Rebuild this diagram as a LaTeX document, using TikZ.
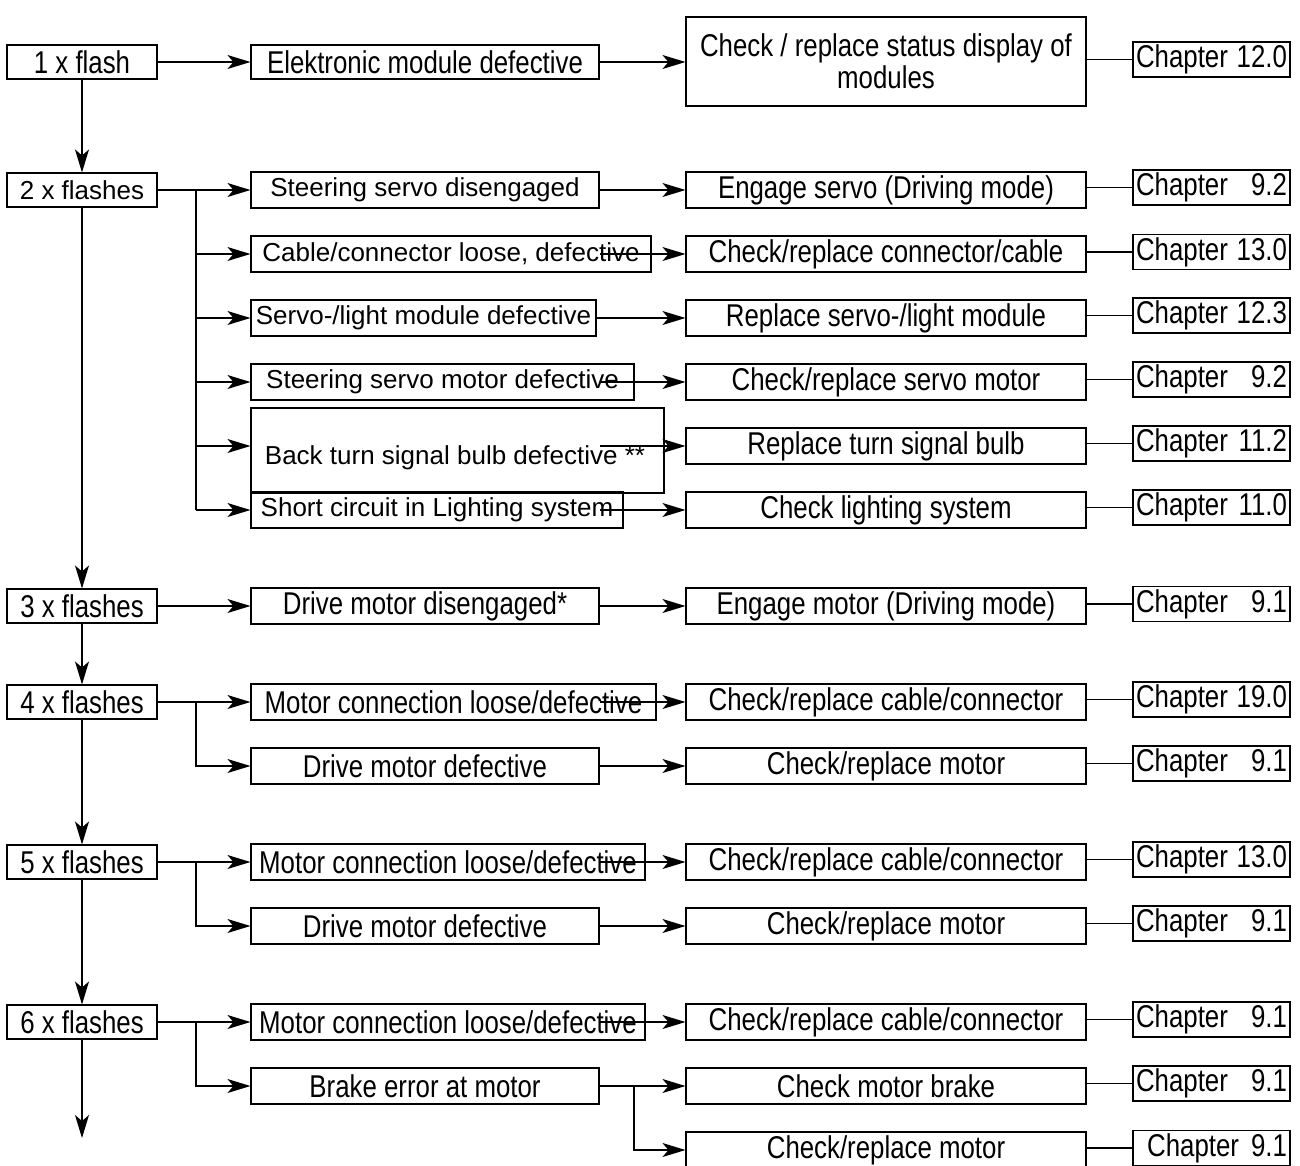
\documentclass[tikz,border=0pt]{standalone}
\usepackage{fontspec}
\setmainfont{Liberation Sans}
\newfontfamily\narrowfont[FakeStretch=0.82]{Liberation Sans}
\usetikzlibrary{arrows.meta}
\tikzset{
 bx/.style={draw, line width=1.1pt, inner sep=0pt, minimum height=36, anchor=center},
 nf/.style={font=\narrowfont\fontsize{31.5}{32}\selectfont},
 rf/.style={font=\fontsize{26}{30}\selectfont},
 tip/.tip={Stealth[length=23pt,width=14pt,inset=6pt]},
 arr/.style={line width=1.1pt, -tip},
 ln/.style={line width=1.1pt},
 flashbox/.style={bx, minimum width=150, minimum height=34},
 causebox/.style={bx, minimum width=348},
 actbox/.style={bx, nf, minimum width=400},
 chbox/.style={bx, nf, minimum width=157, minimum height=35, text width=151, inner xsep=3pt, align=left},
}
\begin{document}
\begin{tikzpicture}[x=1pt,y=-1pt]
\useasboundingbox (0,0) rectangle (1300,1165);
\clip (0,0) rectangle (1300,1165);
% left column
\node[flashbox,nf] (f1) at (82,62) {1 x flash};
\node[flashbox,rf] (f2) at (82,190) {2 x flashes};
\node[flashbox,nf] (f3) at (82,606) {3 x flashes};
\node[flashbox,nf] (f4) at (82,702) {4 x flashes};
\node[flashbox,nf] (f5) at (82,862) {5 x flashes};
\node[flashbox,nf] (f6) at (82,1022) {6 x flashes};
\coordinate (fend) at (82,1138);
% causes
\node[causebox,nf,minimum height=34] (c1) at (425,62) {Elektronic module defective};
\node[causebox,rf] (c2a) at (425,190) {Steering servo disengaged};
\node[bx,rf,minimum width=400] (c2b) at (451,254) {Cable/connector loose, defective};
\node[bx,rf,minimum width=345] (c2c) at (423.5,318) {Servo-/light module defective};
\node[bx,rf,minimum width=383] (c2d) at (442.5,382) {Steering servo motor defective};
\node[bx,minimum width=413,minimum height=85] (c2e) at (457.5,450.5) {};
\node[rf] (t2e) at (455,458) {Back turn signal bulb defective **};
\node[bx,rf,minimum width=372] (c2f) at (437,510) {Short circuit in Lighting system};
\node[causebox,nf] (c3) at (425,606) {Drive motor disengaged*};
\node[bx,nf,minimum width=405] (c4a) at (453.5,702) {Motor connection loose/defective};
\node[causebox,nf] (c4b) at (425,766) {Drive motor defective};
\node[bx,nf,minimum width=394] (c5a) at (448,862) {Motor connection loose/defective};
\node[causebox,nf] (c5b) at (425,926) {Drive motor defective};
\node[bx,nf,minimum width=394] (c6a) at (448,1022) {Motor connection loose/defective};
\node[causebox,nf] (c6b) at (425,1086) {Brake error at motor};
% actions
\node[actbox,minimum height=89,align=center] (a1) at (886,61.5) {Check / replace status display of\\modules};
\node[actbox] (a2a) at (886,190) {Engage servo (Driving mode)};
\node[actbox] (a2b) at (886,254) {Check/replace connector/cable};
\node[actbox] (a2c) at (886,318) {Replace servo-/light module};
\node[actbox] (a2d) at (886,382) {Check/replace servo motor};
\node[actbox] (a2e) at (886,446) {Replace turn signal bulb};
\node[actbox] (a2f) at (886,510) {Check lighting system};
\node[actbox] (a3) at (886,606) {Engage motor (Driving mode)};
\node[actbox] (a4a) at (886,702) {Check/replace cable/connector};
\node[actbox] (a4b) at (886,766) {Check/replace motor};
\node[actbox] (a5a) at (886,862) {Check/replace cable/connector};
\node[actbox] (a5b) at (886,926) {Check/replace motor};
\node[actbox] (a6a) at (886,1022) {Check/replace cable/connector};
\node[actbox] (a6b) at (886,1086) {Check motor brake};
\node[actbox] (a6c) at (886,1150) {Check/replace motor};
% chapters
\node[chbox] (h1) at (1211.5,59.5) {Chapter\hfill 12.0};
\node[chbox] (h2a) at (1211.5,187.5) {Chapter\hfill 9.2};
\node[chbox] (h2b) at (1211.5,252) {Chapter\hfill 13.0};
\node[chbox] (h2c) at (1211.5,315.5) {Chapter\hfill 12.3};
\node[chbox] (h2d) at (1211.5,379.5) {Chapter\hfill 9.2};
\node[chbox] (h2e) at (1211.5,443.5) {Chapter\hfill 11.2};
\node[chbox] (h2f) at (1211.5,507.5) {Chapter\hfill 11.0};
\node[chbox] (h3) at (1211.5,604) {Chapter\hfill 9.1};
\node[chbox] (h4a) at (1211.5,699.5) {Chapter\hfill 19.0};
\node[chbox] (h4b) at (1211.5,763.5) {Chapter\hfill 9.1};
\node[chbox] (h5a) at (1211.5,859.5) {Chapter\hfill 13.0};
\node[chbox] (h5b) at (1211.5,923.5) {Chapter\hfill 9.1};
\node[chbox] (h6a) at (1211.5,1019.5) {Chapter\hfill 9.1};
\node[chbox] (h6b) at (1211.5,1083.5) {Chapter\hfill 9.1};
\node[chbox] (h6c) at (1211.5,1148) {\hfill Chapter\hspace{12pt}9.1};
% vertical main line
\draw[arr] (f1.south) -- (f2.north);
\draw[arr] (f2.south) -- (f3.north);
\draw[arr] (f3.south) -- (f4.north);
\draw[arr] (f4.south) -- (f5.north);
\draw[arr] (f5.south) -- (f6.north);
\draw[arr] (f6.south) -- (fend);
% branch points
\coordinate (b2) at (196,190);
\coordinate (b4) at (196,702);
\coordinate (b5) at (196,862);
\coordinate (b6) at (196,1022);
\coordinate (bb) at (634,1086);
% start points inside cause boxes
\coordinate (s2b) at (600,254);
\coordinate (s2d) at (600,382);
\coordinate (s2e) at (600,446);
\coordinate (s2f) at (600,510);
\coordinate (s4a) at (600,702);
\coordinate (s5a) at (600,862);
\coordinate (s6a) at (600,1022);
% flash -> cause
\draw[arr] (f1.east) -- (c1.west);
\draw[arr] (f2.east) -- (c2a.west);
\draw[ln] (b2) -- (b2 |- c2f.west);
\draw[arr] (b2 |- c2b.west) -- (c2b.west);
\draw[arr] (b2 |- c2c.west) -- (c2c.west);
\draw[arr] (b2 |- c2d.west) -- (c2d.west);
\draw[arr] (b2 |- a2e.west) -- (c2e.west |- a2e.west);
\draw[arr] (b2 |- c2f.west) -- (c2f.west);
\draw[arr] (f3.east) -- (c3.west);
\draw[arr] (f4.east) -- (c4a.west);
\draw[arr] (b4) |- (c4b.west);
\draw[arr] (f5.east) -- (c5a.west);
\draw[arr] (b5) |- (c5b.west);
\draw[arr] (f6.east) -- (c6a.west);
\draw[arr] (b6) |- (c6b.west);
% cause -> action
\draw[arr] (c1.east) -- (a1.west |- c1.east);
\draw[arr] (c2a.east) -- (a2a.west);
\draw[arr] (s2b) -- (a2b.west);
\draw[arr] (c2c.east) -- (a2c.west);
\draw[arr] (s2d) -- (a2d.west);
\draw[arr] (s2e) -- (a2e.west);
\draw[arr] (s2f) -- (a2f.west);
\draw[arr] (c3.east) -- (a3.west);
\draw[arr] (s4a) -- (a4a.west);
\draw[arr] (c4b.east) -- (a4b.west);
\draw[arr] (s5a) -- (a5a.west);
\draw[arr] (c5b.east) -- (a5b.west);
\draw[arr] (s6a) -- (a6a.west);
\draw[arr] (c6b.east) -- (a6b.west);
\draw[arr] (bb) |- (a6c.west);
% action -> chapter
\foreach \a/\h in {a1/h1,a2a/h2a,a2b/h2b,a2c/h2c,a2d/h2d,a2e/h2e,a2f/h2f,a3/h3,a4a/h4a,a4b/h4b,a5a/h5a,a5b/h5b,a6a/h6a,a6b/h6b,a6c/h6c}
  \draw[ln] (\h.west) -- (\h.west -| \a.east);
\end{tikzpicture}
\end{document}
